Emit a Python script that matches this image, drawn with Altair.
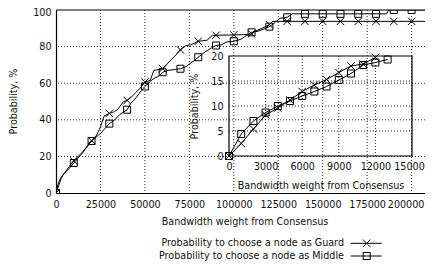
import altair as alt
import pandas as pd

# ---------------- data ----------------
guard_line_x = [0, 1000, 2000, 3000, 5000, 7500, 10000, 15000, 20000, 22500,
                25000, 27000, 30000, 33000, 35000, 38000, 40000, 42000, 45000, 48000,
                50000, 53000, 55000, 58000, 60000, 63000, 65000, 68000, 70000, 73000,
                76000, 80000, 85000, 88000, 90000, 100000, 108000, 110000, 112000, 116000,
                118000, 120000, 122000, 208000, 209000, 212000]
guard_line_y = [0, 2.5, 5.4, 8.2, 11.2, 14.5, 17.5, 22.5, 28.7, 31,
                36, 42, 43.5, 44.5, 46, 50, 50.6, 52, 55, 58,
                60.6, 61.5, 67, 67.5, 67.9, 71, 73, 76, 78.2, 80.5,
                81, 82.9, 83.5, 86.2, 86.2, 86.4, 86.6, 87, 88.5, 90,
                91, 92, 93.8, 93.8, 100, 100]

middle_line_x = [0, 1000, 2000, 3000, 4000, 5000, 7500, 10000, 15000, 20000,
                 25000, 30000, 33000, 36000, 40000, 42000, 45000, 48000, 50000, 53000,
                 55000, 58000, 60000, 63000, 67000, 70000, 73000, 75000, 78000, 80000,
                 83000, 87000, 90000, 93000, 96000, 100000, 104000, 107000, 110000, 114000,
                 118000, 120000, 123000, 126000, 130000, 133000, 186000, 187000, 212000]
middle_line_y = [0, 4.4, 7.0, 8.7, 10, 11, 13.5, 16.4, 22, 28.4,
                 32.5, 37.9, 40, 43, 45.5, 49, 52, 56, 58.2, 61,
                 62.5, 64, 66, 67, 67.5, 67.9, 69, 70.5, 72.5, 74.2,
                 76.5, 79, 80.6, 81, 82.5, 82.9, 84, 86, 87.8, 88.5,
                 90, 90.9, 93, 95.5, 96, 97.9, 97.9, 100, 100]

mark_x = [0, 10000, 20000, 30000, 40000, 50000, 60000, 70000, 80000, 90000, 100000,
          110000, 120000, 130000, 140000, 150000, 160000, 170000, 180000, 190000, 200000, 210000]
guard_mark_y = [0, 17.5, 28.7, 43.5, 50.6, 60.6, 67.9, 78.2, 82.9, 86.2, 86.4,
                87, 92, 93.8, 93.8, 93.8, 93.8, 93.8, 93.8, 93.8, 93.8, 100]
middle_mark_y = [0, 16.4, 28.4, 37.9, 45.5, 58.2, 66, 67.9, 74.2, 80.6, 82.9,
                 87.8, 90.9, 96, 97.9, 97.9, 97.9, 97.9, 97.9, 100, 100, 100]

inset_guard_x = [0, 1000, 2000, 3000, 4000, 5000, 6000, 7000, 8000, 9000, 10000, 11000, 12000]
inset_guard_y = [0, 2.5, 5.4, 8.2, 9.6, 11.2, 12.9, 14.2, 15.3, 16.7, 18, 18.4, 19.7]
inset_middle_x = [0, 1000, 2000, 3000, 4000, 5000, 6000, 7000, 8000, 9000, 10000, 11000, 12000, 13000]
inset_middle_y = [0, 4.4, 7.0, 8.7, 10, 11, 12, 12.9, 13.9, 15.2, 16.5, 18.2, 18.7, 19.3]

main_x_ticks = [0, 25000, 50000, 75000, 100000, 125000, 150000, 175000, 200000]
main_y_ticks = [0, 20, 40, 60, 80, 100]
inset_x_ticks = [0, 3000, 6000, 9000, 12000, 15000]
inset_y_ticks = [0, 5, 10, 15, 20]

legend_labels = ["Probability to choose a node as Guard",
                 "Probability to choose a node as Middle"]
x_title = "Bandwidth weight from Consensus"
y_title = "Probability, %"

# ---------------- layout / style ----------------
W, H = 369, 183
FONT = "DejaVu Sans"
FS = 9.6
TXT = "#111111"
GRID = "#000000"
DASH = [1, 2]
X_PATH = "M-1,-1L1,1M-1,1L1,-1"
MSIZE = 55
X_MAX = W / 44.45 * 25000

main_xs = alt.Scale(domain=[0, X_MAX], nice=False, zero=False)
main_ys = alt.Scale(domain=[0, 100], nice=False)
inset_xs = alt.Scale(domain=[0, 15000], range=[173, 356], nice=False, zero=False)
inset_ys = alt.Scale(domain=[0, 20], range=[146, 46], nice=False)

common = dict(labelFont=FONT, labelFontSize=FS, labelColor=TXT, titleFont=FONT,
              titleFontSize=FS, titleColor=TXT, titleFontWeight="normal",
              labelOverlap=False, labelFlush=False, ticks=False, grid=False)


def nudge(value, shift):
    # keep edge labels inside the page
    return {"condition": {"test": f"datum.value == {value}", "value": shift}, "value": 0}


main_x_axis = alt.Axis(values=main_x_ticks, format="d", domain=True, domainColor="black",
                       domainWidth=1.2, labelPadding=6, title=x_title, titleX=188.5,
                       titleY=28.7, titleBaseline="middle",
                       labelOffset=nudge(main_x_ticks[-1], -6), **common)
main_y_axis = alt.Axis(values=main_y_ticks, format="d", domain=True, domainColor="black",
                       domainWidth=1.2, labelPadding=5, title=y_title, titleX=-43,
                       titleY=91, titleBaseline="middle",
                       labelOffset=nudge(main_y_ticks[-1], 2), **common)
inset_x_axis = alt.Axis(values=inset_x_ticks, format="d", domain=False,
                        orient="bottom", offset=-37, labelPadding=5, title=x_title,
                        titleY=29, titleBaseline="middle",
                        labelOffset=nudge(inset_x_ticks[-1], -3), **common)
inset_y_axis = alt.Axis(values=inset_y_ticks, format="d", domain=False,
                        orient="left", offset=-173, labelPadding=6, title=y_title,
                        titleX=-35, titleY=96, titleBaseline="middle", **common)


def mx(f):
    return alt.X(f, type="quantitative", scale=main_xs, axis=main_x_axis)


def my(f):
    return alt.Y(f, type="quantitative", scale=main_ys, axis=main_y_axis)


def ix(f):
    return alt.X(f, type="quantitative", scale=inset_xs, axis=inset_x_axis)


def iy(f):
    return alt.Y(f, type="quantitative", scale=inset_ys, axis=inset_y_axis)


line_kw = dict(color="black", strokeWidth=1, clip=True)
x_kw = dict(shape=X_PATH, size=MSIZE, filled=False, color="black", strokeWidth=1, opacity=1)
sq_kw = dict(shape="square", size=MSIZE - 6, filled=False, color="black", strokeWidth=1, opacity=1)
grid_kw = dict(color=GRID, strokeDash=DASH, strokeWidth=1, opacity=0.85)

df_gl = pd.DataFrame({"x": guard_line_x, "y": guard_line_y})
df_ml = pd.DataFrame({"x": middle_line_x, "y": middle_line_y})
df_gm = pd.DataFrame({"x": mark_x, "y": guard_mark_y})
df_mm = pd.DataFrame({"x": mark_x, "y": middle_mark_y})
df_mvg = pd.DataFrame({"v": main_x_ticks[1:]})
df_mhg = pd.DataFrame({"v": main_y_ticks[1:-1]})

main = alt.layer(
    alt.Chart(df_mvg).mark_rule(**grid_kw).encode(x=mx("v")),
    alt.Chart(df_mhg).mark_rule(**grid_kw).encode(y=my("v")),
    alt.Chart(df_gl).mark_line(**line_kw).encode(x=mx("x"), y=my("y")),
    alt.Chart(df_ml).mark_line(**line_kw).encode(x=mx("x"), y=my("y")),
    alt.Chart(df_gm).mark_point(clip=True, **x_kw).encode(x=mx("x"), y=my("y")),
    alt.Chart(df_mm).mark_point(clip=True, **sq_kw).encode(x=mx("x"), y=my("y")),
    alt.Chart(pd.DataFrame({"y": [main_y_ticks[-1]]})).mark_rule(
        color="black", strokeWidth=1.2).encode(y=my("y")),
)

df_ig = pd.DataFrame({"x": inset_guard_x, "y": inset_guard_y})
df_im = pd.DataFrame({"x": inset_middle_x, "y": inset_middle_y})
df_vg = pd.DataFrame({"v": inset_x_ticks[1:-1], "lo": inset_y_ticks[0], "hi": inset_y_ticks[-1]})
df_hg = pd.DataFrame({"v": inset_y_ticks[1:-1], "lo": inset_x_ticks[0], "hi": inset_x_ticks[-1]})
df_box = pd.DataFrame({"x0": [inset_x_ticks[0]], "x1": [inset_x_ticks[-1]],
                       "y0": [inset_y_ticks[0]], "y1": [inset_y_ticks[-1]]})

inset = alt.layer(
    alt.Chart(df_vg).mark_rule(**grid_kw).encode(x=ix("v"), y=iy("lo"), y2="hi:Q"),
    alt.Chart(df_hg).mark_rule(**grid_kw).encode(y=iy("v"), x=ix("lo"), x2="hi:Q"),
    alt.Chart(df_box).mark_rect(fillOpacity=0, stroke="black", strokeWidth=1.2).encode(
        x=ix("x0"), x2="x1:Q", y=iy("y0"), y2="y1:Q"),
    alt.Chart(df_ig).mark_line(color="black", strokeWidth=1).encode(x=ix("x"), y=iy("y")),
    alt.Chart(df_im).mark_line(color="black", strokeWidth=1).encode(x=ix("x"), y=iy("y")),
    alt.Chart(df_ig).mark_point(**x_kw).encode(x=ix("x"), y=iy("y")),
    alt.Chart(df_im).mark_point(**sq_kw).encode(x=ix("x"), y=iy("y")),
)

# manual legend (text on the left, line sample with marker on the right)
leg_y = [233.3, 246]
leg_parts = []
for i, (lab, kw) in enumerate(zip(legend_labels, [x_kw, sq_kw])):
    d = pd.DataFrame({"label": [lab]})
    base = alt.Chart(d)
    leg_parts += [
        base.mark_text(align="right", baseline="middle", font=FONT, fontSize=FS,
                       color=TXT).encode(x=alt.value(288), y=alt.value(leg_y[i]), text="label:N"),
        base.mark_rule(color="black", strokeWidth=1).encode(
            x=alt.value(294.7), x2=alt.value(325.7), y=alt.value(leg_y[i])),
        base.mark_point(**kw).encode(x=alt.value(310.7), y=alt.value(leg_y[i])),
    ]
legend = alt.layer(*leg_parts)

chart = alt.layer(main, inset, legend).resolve_scale(
    x="independent", y="independent"
).properties(
    width=W, height=H,
    autosize=alt.AutoSizeParams(type="none"),
    padding={"left": 48, "top": 2, "right": 0, "bottom": 72},
    background="white",
).configure_view(stroke=None)

chart.save("out.html", embed_options={"renderer": "svg", "actions": False})
